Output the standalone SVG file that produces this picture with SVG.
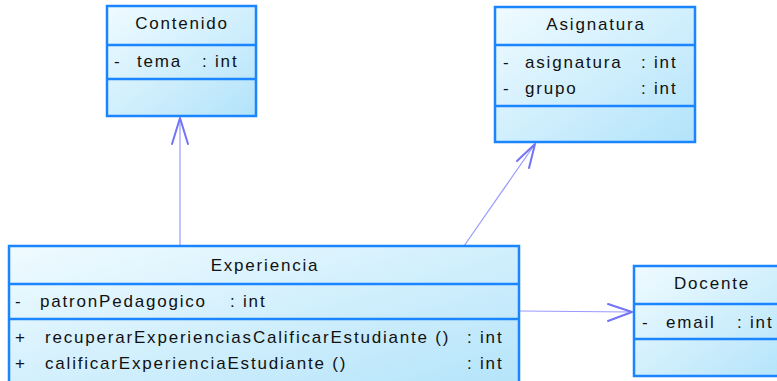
<svg xmlns="http://www.w3.org/2000/svg" width="777" height="381" viewBox="0 0 777 381">
<defs>
<linearGradient id="g" x1="0" y1="0" x2="1" y2="1">
<stop offset="0" stop-color="#f0fbff"/>
<stop offset="1" stop-color="#b2e3fa"/>
</linearGradient>
<style>
.box{fill:url(#g);stroke:#1a85ff;stroke-width:2.5}
.div{stroke:#1a85ff;stroke-width:2.5}
text{font-family:"Liberation Sans",Arial,sans-serif;font-size:17px;fill:#111;letter-spacing:1.8px}
.c{text-anchor:middle}
.ln{stroke:#9a9aff;stroke-width:1.2;fill:none}
.hd{stroke:#7373f5;stroke-width:2;fill:none;stroke-linecap:round;stroke-linejoin:round}
</style>
</defs>
<g id="connectors">
<line class="ln" x1="180" y1="246" x2="180" y2="118"/>
<polyline class="hd" points="172,144 180,118 188,144"/>
<line class="ln" x1="464" y1="246" x2="535" y2="144"/>
<polyline class="hd" points="517,161 535,144 529,168"/>
<line class="ln" x1="520" y1="311" x2="632" y2="312"/>
<polyline class="hd" points="608,304 632,312 608,321"/>
</g>
<g id="Contenido">
<rect class="box" x="107" y="6" width="149" height="110"/>
<line class="div" x1="107" y1="45" x2="256" y2="45"/>
<line class="div" x1="107" y1="79" x2="256" y2="79"/>
<text class="c" x="182" y="29">Contenido</text>
<text x="114" y="67">-</text>
<text x="137" y="67">tema</text>
<text x="202" y="67">: int</text>
</g>
<g id="Asignatura">
<rect class="box" x="495" y="7" width="200" height="135"/>
<line class="div" x1="495" y1="45" x2="695" y2="45"/>
<line class="div" x1="495" y1="106" x2="695" y2="106"/>
<text class="c" x="596" y="30">Asignatura</text>
<text x="503" y="68">-</text>
<text x="525" y="68">asignatura</text>
<text x="641" y="68">: int</text>
<text x="503" y="94">-</text>
<text x="525" y="94">grupo</text>
<text x="641" y="94">: int</text>
</g>
<g id="Experiencia">
<rect class="box" x="9" y="246" width="510" height="150"/>
<line class="div" x1="9" y1="284" x2="519" y2="284"/>
<line class="div" x1="9" y1="319" x2="519" y2="319"/>
<text class="c" x="265" y="271">Experiencia</text>
<text x="15" y="307">-</text>
<text x="40" y="307">patronPedagogico</text>
<text x="230" y="307">: int</text>
<text x="15" y="343">+</text>
<text x="45" y="343">recuperarExperienciasCalificarEstudiante ()</text>
<text x="467" y="343">: int</text>
<text x="15" y="369">+</text>
<text x="45" y="369">calificarExperienciaEstudiante ()</text>
<text x="467" y="369">: int</text>
</g>
<g id="Docente">
<rect class="box" x="634" y="266" width="160" height="110"/>
<line class="div" x1="634" y1="304" x2="794" y2="304"/>
<line class="div" x1="634" y1="339" x2="794" y2="339"/>
<text class="c" x="712" y="289">Docente</text>
<text x="642" y="328">-</text>
<text x="666" y="328">email</text>
<text x="737" y="328">: int</text>
</g>
</svg>
